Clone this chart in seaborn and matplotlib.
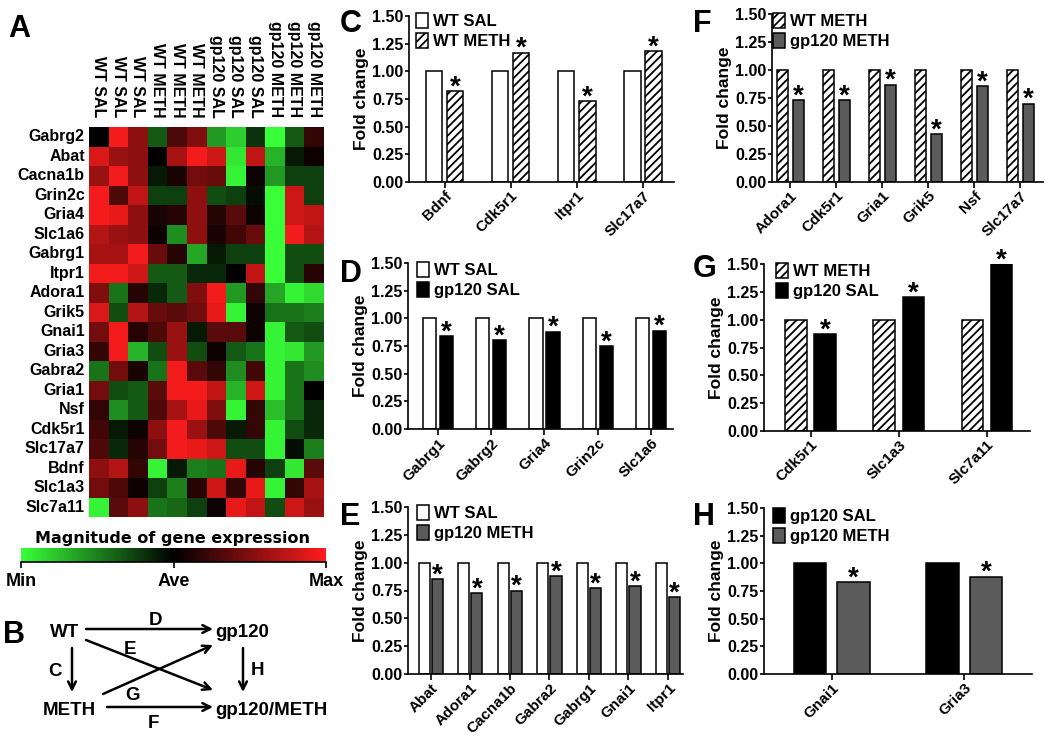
import numpy as np
import pandas as pd
import matplotlib
matplotlib.use('Agg')
import matplotlib.pyplot as plt
import seaborn as sns
from matplotlib.colors import LinearSegmentedColormap
from matplotlib.patches import Patch

plt.rcParams['font.family'] = ['Liberation Sans', 'DejaVu Sans']
plt.rcParams['font.weight'] = 'bold'
plt.rcParams['axes.labelweight'] = 'bold'
plt.rcParams['hatch.linewidth'] = 1.3

# ---- heatmap data (A) ----
heat_genes = ['Gabrg2', 'Abat', 'Cacna1b', 'Grin2c', 'Gria4', 'Slc1a6', 'Gabrg1', 'Itpr1',
              'Adora1', 'Grik5', 'Gnai1', 'Gria3', 'Gabra2', 'Gria1', 'Nsf', 'Cdk5r1',
              'Slc17a7', 'Bdnf', 'Slc1a3', 'Slc7a11']
heat_samples = ['WT SAL', 'WT SAL', 'WT SAL', 'WT METH', 'WT METH', 'WT METH',
                'gp120 SAL', 'gp120 SAL', 'gp120 SAL', 'gp120 METH', 'gp120 METH', 'gp120 METH']
heat_values = [
    [0.00, 0.95, 0.55, -0.35, 0.30, 0.50, -0.60, -0.80, -0.20, -1.00, -0.35, 0.20],
    [0.85, 0.60, 0.55, 0.00, 0.65, 0.95, 0.80, -0.90, 0.75, -0.70, -0.10, 0.05],
    [0.60, 0.95, 0.55, -0.10, 0.10, 0.45, 0.40, -0.95, 0.05, -0.60, -0.25, -0.25],
    [0.95, 0.30, 0.75, -0.25, -0.25, 0.55, -0.30, -0.25, -0.05, -1.00, 0.80, -0.25],
    [0.95, 0.90, 0.55, 0.10, 0.15, 0.55, 0.15, 0.35, 0.05, -1.00, 0.80, 0.75],
    [0.70, 0.60, 0.55, 0.05, -0.55, 0.55, 0.10, 0.25, 0.40, -1.00, 0.95, 0.70],
    [0.65, 0.65, 0.95, 0.40, 0.15, -0.65, -0.10, -0.25, -0.25, -1.00, -0.30, -0.30],
    [0.95, 0.95, 0.80, -0.35, -0.35, -0.15, -0.15, 0.00, 0.75, -1.00, -0.30, 0.15],
    [0.50, -0.45, 0.15, -0.15, -0.35, 0.50, 0.95, -0.60, 0.20, -0.65, -0.95, -0.85],
    [0.85, -0.30, 0.70, 0.40, 0.35, 0.45, 0.90, -0.95, 0.05, -0.45, -0.45, -0.50],
    [0.45, 0.95, 0.15, 0.30, 0.60, -0.10, 0.35, 0.35, 0.05, -0.95, -0.35, -0.30],
    [0.20, 0.95, -0.70, -0.30, 0.60, -0.30, 0.05, -0.35, -0.45, -0.95, -0.90, -0.60],
    [-0.45, 0.45, 0.10, -0.45, 0.95, 0.35, 0.20, -0.55, 0.25, -0.95, -0.45, -0.55],
    [0.45, -0.30, -0.35, 0.35, 0.95, 0.95, 0.75, -0.70, 0.80, -0.95, -0.45, 0.00],
    [0.20, -0.55, -0.35, 0.30, 0.65, 0.90, 0.50, -0.95, 0.20, -0.75, -0.45, -0.15],
    [0.25, -0.10, 0.05, 0.55, 0.95, 0.60, 0.30, -0.10, 0.20, -0.95, -0.30, -0.15],
    [0.30, -0.15, 0.15, 0.45, 0.95, 0.90, 0.80, -0.30, -0.30, -0.95, -0.05, -0.50],
    [0.55, 0.70, 0.20, -0.95, -0.10, -0.50, -0.45, 0.90, 0.15, -0.25, -0.90, 0.35],
    [0.45, 0.30, 0.05, -0.25, -0.50, 0.15, 0.80, 0.20, 0.90, -0.95, 0.20, 0.65],
    [-0.95, 0.35, 0.55, -0.45, -0.40, -0.25, 0.05, 0.90, 0.75, -0.30, 0.80, 0.60],
]
cbar_labels = ['Min', 'Ave', 'Max']

# ---- bar chart data (C-H), fold change vs reference group ----
genes_c = ['Bdnf', 'Cdk5r1', 'Itpr1', 'Slc17a7']
wt_sal_c = [1, 1, 1, 1]
wt_meth_c = [0.82, 1.17, 0.73, 1.18]

genes_d = ['Gabrg1', 'Gabrg2', 'Gria4', 'Grin2c', 'Slc1a6']
wt_sal_d = [1, 1, 1, 1, 1]
gp120_sal_d = [0.84, 0.80, 0.88, 0.75, 0.89]

genes_e = ['Abat', 'Adora1', 'Cacna1b', 'Gabra2', 'Gabrg1', 'Gnai1', 'Itpr1']
wt_sal_e = [1, 1, 1, 1, 1, 1, 1]
gp120_meth_e = [0.85, 0.73, 0.75, 0.88, 0.77, 0.79, 0.69]

genes_f = ['Adora1', 'Cdk5r1', 'Gria1', 'Grik5', 'Nsf', 'Slc17a7']
wt_meth_f = [1, 1, 1, 1, 1, 1]
gp120_meth_f = [0.73, 0.73, 0.87, 0.43, 0.86, 0.70]

genes_g = ['Cdk5r1', 'Slc1a3', 'Slc7a11']
wt_meth_g = [1, 1, 1]
gp120_sal_g = [0.87, 1.20, 1.50]

genes_h = ['Gnai1', 'Gria3']
gp120_sal_h = [1, 1]
gp120_meth_h = [0.83, 0.88]

# group styles: facecolor, hatch
styles = {'WT SAL': ('white', ''), 'WT METH': ('white', '////'),
          'gp120 SAL': ('black', ''), 'gp120 METH': ('#5b5b5b', '')}

W, H = 1050, 736
fig = plt.figure(figsize=(W / 100, H / 100), dpi=100)


def frac(left, top, right, bottom):
    return [left / W, 1 - bottom / H, (right - left) / W, (bottom - top) / H]


# overlay for panel letters and the scheme in B (pixel coordinates)
ov = fig.add_axes([0, 0, 1, 1])
ov.set_xlim(0, W)
ov.set_ylim(H, 0)
ov.axis('off')

for letter, x, y in [('A', 8, 37), ('B', 3, 643), ('C', 340, 32), ('D', 340, 282),
                     ('E', 340, 525), ('F', 693, 32), ('G', 693, 277), ('H', 693, 525)]:
    ov.text(x, y, letter, fontsize=22, fontweight='bold', va='baseline', ha='left')

# ---- A: heatmap ----
cmap = LinearSegmentedColormap.from_list('gbr', ['#38ff38', '#000000', '#ff1c1c'])
ax_h = fig.add_axes(frac(89, 127, 324, 517))
sns.heatmap(np.array(heat_values), cmap=cmap, vmin=-1, vmax=1, cbar=False,
            xticklabels=heat_samples, yticklabels=heat_genes, ax=ax_h)
ax_h.xaxis.tick_top()
ax_h.tick_params(length=0, labelsize=11.5)
ax_h.tick_params(axis='x', pad=7)
ax_h.tick_params(axis='y', pad=3, labelsize=11.5)
for lab in ax_h.get_xticklabels():
    lab.set_rotation(270)
    lab.set_va('bottom')
    lab.set_ha('center')
for lab in ax_h.get_yticklabels():
    lab.set_rotation(0)

fig.text(173 / W, 1 - 539 / H, 'Magnitude of gene expression', ha='center', va='center',
         fontsize=11.5, fontweight='bold', family='DejaVu Sans')
cax = fig.add_axes(frac(21, 548, 326, 562))
cb = fig.colorbar(ax_h.collections[0], cax=cax, orientation='horizontal', ticks=[-1, 0, 1])
cb.outline.set_visible(False)
cb.set_ticklabels(cbar_labels)
cax.tick_params(length=4, width=1.2, labelsize=13, pad=4)
cax.axhline(cax.get_ylim()[0], color='black', lw=1.2, clip_on=False)

# ---- B: scheme ----
for txt, x, y, ha in [('WT', 65, 637, 'center'), ('gp120', 215, 637, 'left'),
                      ('METH', 69, 715, 'center'), ('gp120/METH', 215, 715, 'left'),
                      ('D', 155, 625, 'center'), ('E', 130, 654, 'center'),
                      ('C', 55, 676, 'center'), ('H', 257, 675, 'center'),
                      ('G', 133, 700, 'center'), ('F', 153, 728, 'center')]:
    ov.text(x, y, txt, fontsize=13.5, fontweight='bold', ha=ha, va='baseline')
for (x0, y0), (x1, y1) in [((86, 629), (213, 629)), ((86, 640), (213, 690)),
                           ((72, 648), (72, 692)), ((103, 694), (213, 645)),
                           ((243, 648), (243, 692)), ((107, 707), (213, 707))]:
    ov.annotate('', xy=(x1, y1), xytext=(x0, y0),
                arrowprops=dict(arrowstyle='->', lw=1.8, color='black',
                                shrinkA=0, shrinkB=0, mutation_scale=14))


# ---- C-H: bar charts ----
def bar_panel(rect, genes, ref_name, ref_vals, cmp_name, cmp_vals, xlim, width, gap, leg_xy):
    ax = fig.add_axes(frac(*rect))
    df = pd.DataFrame({'gene': genes * 2,
                       'group': [ref_name] * len(genes) + [cmp_name] * len(genes),
                       'value': list(ref_vals) + list(cmp_vals)})
    order = [ref_name, cmp_name]
    sns.barplot(data=df, x='gene', y='value', hue='group', hue_order=order,
                palette={n: styles[n][0] for n in order}, saturation=1,
                edgecolor='black', linewidth=1.1, width=width, gap=gap,
                errorbar=None, legend=False, ax=ax)
    for name, cont in zip(order, ax.containers):
        for p in cont:
            p.set_hatch(styles[name][1])
    for p in ax.containers[1]:
        ax.annotate('*', xy=(p.get_x() + p.get_width() / 2, p.get_height()),
                    xytext=(0, -2.5), textcoords='offset points',
                    ha='center', va='baseline', fontsize=20, fontweight='bold')
    handles = [Patch(facecolor=styles[n][0], edgecolor='black', hatch=styles[n][1],
                     linewidth=1.1, label=n) for n in order]
    ax.legend(handles=handles, loc='upper left', bbox_to_anchor=leg_xy, frameon=False,
              fontsize=12, handlelength=0.7, handleheight=1.05, handletextpad=0.3,
              labelspacing=0.2, borderpad=0, borderaxespad=0)
    ax.set_ylim(0, 1.5)
    ax.set_yticks(np.arange(0, 1.51, 0.25))
    ax.yaxis.set_major_formatter('{x:.2f}')
    ax.set_xlim(*xlim)
    sns.despine(ax=ax)
    ax.spines[['left', 'bottom']].set_linewidth(1.2)
    ax.tick_params(axis='both', direction='out', length=3, width=1.2, pad=1, labelsize=11.5)
    ax.tick_params(axis='x', length=4, labelsize=11)
    for lab in ax.get_xticklabels():
        lab.set_rotation(45)
        lab.set_ha('right')
        lab.set_va('top')
        lab.set_rotation_mode('anchor')
    ax.set_xlabel('')
    ax.set_ylabel('Fold change', fontsize=12.5, labelpad=2)
    return ax


bar_panel((409, 16, 674, 182), genes_c, 'WT SAL', wt_sal_c, 'WT METH', wt_meth_c,
          (-0.54, 3.47), 0.64, 0.23, (0.026, 1.018))
bar_panel((408, 263, 673, 429), genes_d, 'WT SAL', wt_sal_d, 'gp120 SAL', gp120_sal_d,
          (-0.56, 4.41), 0.64, 0.21, (0.034, 1.006))
bar_panel((408, 507, 683, 674), genes_e, 'WT SAL', wt_sal_e, 'gp120 METH', gp120_meth_e,
          (-0.58, 6.38), 0.66, 0.15, (0.033, 1.012))
bar_panel((772, 14, 1043, 182), genes_f, 'WT METH', wt_meth_f, 'gp120 METH', gp120_meth_f,
          (-0.40, 5.49), 0.70, 0.29, (0.004, 1.006))
bar_panel((764, 264, 1030, 431), genes_g, 'WT METH', wt_meth_g, 'gp120 SAL', gp120_sal_g,
          (-0.53, 2.49), 0.66, 0.26, (0.045, 1.006))
bar_panel((764, 508, 1032, 674), genes_h, 'gp120 SAL', gp120_sal_h, 'gp120 METH', gp120_meth_h,
          (-0.51, 1.51), 0.66, 0.26, (0.034, 1.0))

fig.savefig('out.png', dpi=100)
